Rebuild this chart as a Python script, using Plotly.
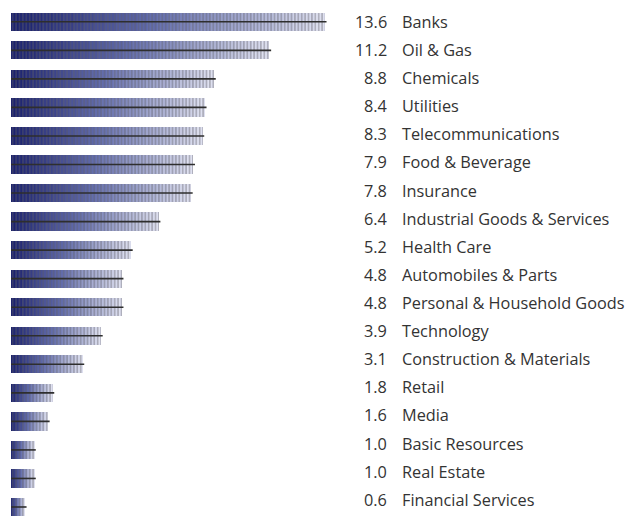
import plotly.graph_objects as go

sectors = [
    "Banks", "Oil & Gas", "Chemicals", "Utilities", "Telecommunications",
    "Food & Beverage", "Insurance", "Industrial Goods & Services", "Health Care",
    "Automobiles & Parts", "Personal & Household Goods", "Technology",
    "Construction & Materials", "Retail", "Media", "Basic Resources",
    "Real Estate", "Financial Services",
]
weights = [13.6, 11.2, 8.8, 8.4, 8.3, 7.9, 7.8, 6.4, 5.2, 4.8, 4.8, 3.9, 3.1, 1.8, 1.6, 1.0, 1.0, 0.6]

# each bar is split into thin stacked slices to fake a left-to-right gradient
n_slices = 30
stops = [(0.0, (28, 34, 110)), (0.45, (98, 108, 172)), (1.0, (222, 224, 240))]


def mix(t):
    for (t0, c0), (t1, c1) in zip(stops, stops[1:]):
        if t <= t1:
            f = (t - t0) / (t1 - t0)
            r, g, b = (round(a + (b_ - a) * f) for a, b_ in zip(c0, c1))
            return f"rgb({r},{g},{b})"
    return "rgb(%d,%d,%d)" % stops[-1][1]


fig = go.Figure()
for k in range(n_slices):
    fig.add_trace(go.Bar(
        y=sectors,
        x=[w / n_slices for w in weights],
        orientation="h",
        marker=dict(
            color=mix(k / (n_slices - 1)),
            line=dict(width=0),
            pattern=dict(shape="|", fillmode="overlay", fgcolor="#606068",
                         size=3.4, solidity=0.38),
        ),
        hoverinfo="skip",
        showlegend=False,
    ))

# dark rule running through the middle of each bar
for s, w in zip(sectors, weights):
    fig.add_trace(go.Scatter(x=[0, w + 0.074], y=[s, s], mode="lines",
                             line=dict(color="#2e2e2e", width=1.6),
                             hoverinfo="skip", showlegend=False))

# labels sit on a slightly tighter pitch than the bars
for i, (s, w) in enumerate(zip(sectors, weights)):
    lift = 0.42 * i
    fig.add_annotation(x=16.38, y=s, text=f"{w:.1f}", xanchor="right", yshift=lift,
                       showarrow=False, font=dict(size=16.3, color="#333333"))
    fig.add_annotation(x=16.86, y=s, text=s, xanchor="left", yshift=lift,
                       showarrow=False, font=dict(size=16.3, color="#333333"))

fig.update_layout(
    width=635, height=516,
    barmode="stack", bargap=0.36,
    margin=dict(l=3, r=0, t=0, b=0),
    plot_bgcolor="white", paper_bgcolor="white",
    font=dict(family="'Open Sans', sans-serif"),
    xaxis=dict(range=[0, 27.39], visible=False),
    yaxis=dict(range=[17.596, -0.4835], visible=False),
)

fig.write_html("out.html")
